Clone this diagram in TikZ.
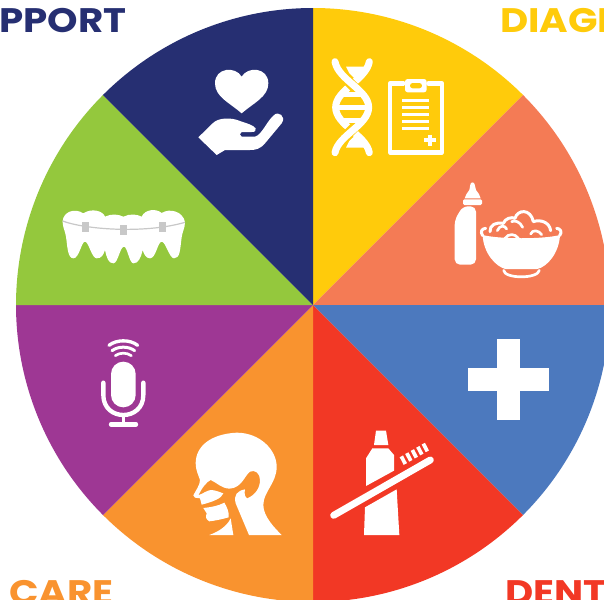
\documentclass[tikz,border=0pt]{standalone}
\usepackage{fontspec}
\usepackage{graphicx}
\setmainfont{Poppins}
\definecolor{cyellow}{HTML}{FFCB0B}
\definecolor{csalmon}{HTML}{F47B55}
\definecolor{cblue}{HTML}{4C79BE}
\definecolor{cred}{HTML}{F23825}
\definecolor{corange}{HTML}{F9932F}
\definecolor{cpurple}{HTML}{9E3794}
\definecolor{cgreen}{HTML}{94C83D}
\definecolor{cnavy}{HTML}{262F72}
\definecolor{cwire}{HTML}{C8C8C8}
\tikzset{
  lnw/.style={draw=white,line width=#1*0.25pt,line cap=round,line join=round},
  zm/.style={x=0.25pt,y=-0.25pt},
  heading/.style={font=\bfseries\fontsize{25.5pt}{25.5pt}\selectfont,inner sep=0pt,anchor=base west}
}
\newcommand{\wide}[1]{\scalebox{1.14}[1]{#1}}
\begin{document}
\begin{tikzpicture}[x=0.75pt,y=-0.75pt]
\useasboundingbox (0,0) rectangle (604,600);
\clip (0,0) rectangle (604,600);
\def\R{297}
\foreach \col/\a/\b in {cyellow/45/90,csalmon/0/45,cblue/-45/0,cred/-90/-45,corange/-135/-90,cpurple/-180/-135,cgreen/135/180,cnavy/90/135}{
  \fill[\col] (313,305) -- ++({\R*cos(\a)},{-\R*sin(\a)}) arc[start angle=-\a,end angle=-\b,radius=\R] -- cycle;
}
% headings
\node[heading,text=cnavy] (tsupport) at (-1,32) {\wide{PPORT}};
\node[heading,text=cyellow] (tdiag) at (500,32) {\wide{DIAGI}};
\node[heading,text=corange] (tcare) at (9,604) {\wide{CARE}};
\node[heading,text=cred] (tdent) at (505,604) {\wide{DENT}};
% DNA and clipboard
\begin{scope}[shift={(310,30)},zm]
  \draw[lnw=21] (178,95) .. controls (168,150) and (77,180) .. (77,232) .. controls (77,285) and (168,315) .. (178,368);
  \draw[cyellow,line width=7.5pt] (92,125) .. controls (115,160) and (150,185) .. (165,205);
  \draw[cyellow,line width=7.5pt] (165,258) .. controls (150,280) and (115,305) .. (92,338);
  \draw[lnw=21] (75,95) .. controls (85,150) and (176,180) .. (176,232) .. controls (176,285) and (85,315) .. (75,368);
  \fill[white] (108,110)--(165,110)--(160,125)--(140,152)--(118,130)--cycle;
  \fill[white] (108,353)--(165,353)--(160,338)--(140,312)--(118,333)--cycle;
  \draw[white,line width=4.2pt] (95,193)--(158,193) (85,233)--(168,233) (95,272)--(158,272);
  \draw[lnw=13] (280,160) -- (240,160) -- (240,367) -- (396,367) -- (396,160) -- (355,160);
  \fill[white,rounded corners=2pt] (285,147) rectangle (350,187);
  \fill[cyellow,rounded corners=2pt] (300,159) rectangle (336,175);
  \draw[white,line width=1.9pt] (277,211)--(358,211) (277,232)--(358,232) (277,253)--(358,253) (277,274)--(358,274) (277,295)--(358,295);
  \draw[white,line width=3pt] (342,331)--(378,331) (360,314)--(360,348);
\end{scope}
% bottle and bowl
\begin{scope}[shift={(440,170)},zm]
  \fill[white] (88,60) .. controls (90,52) and (91,50) .. (91,44) .. controls (91,35) and (104,35) .. (104,44) .. controls (104,52) and (106,54) .. (108,60) .. controls (115,68) and (120,76) .. (122,85) -- (74,85) .. controls (76,76) and (82,68) .. (88,60) -- cycle;
  \fill[white,rounded corners=1pt] (69,88) rectangle (126,105);
  \fill[white,rounded corners=4pt] (68,109) -- (108,109) -- (108,284) -- (44,284) -- (44,150) -- cycle;
  % food
  \draw[lnw=9] (150,185) .. controls (148,165) and (170,155) .. (190,160) .. controls (195,145) and (215,140) .. (225,145) .. controls (232,118) and (272,115) .. (280,155) .. controls (300,148) and (328,155) .. (332,182);
  \draw[lnw=8] (172,182) .. controls (178,165) and (195,165) .. (200,177);
  \draw[lnw=8] (215,155) .. controls (225,150) and (240,155) .. (248,172);
  \draw[lnw=8] (272,192) .. controls (278,178) and (295,180) .. (305,194);
  \draw[lnw=8] (195,205) .. controls (205,190) and (225,190) .. (235,205);
  % rim
  \draw[lnw=9] (137,175) .. controls (125,176) and (120,185) .. (128,197);
  \draw[lnw=9] (350,175) .. controls (362,176) and (367,185) .. (359,197);
  \fill[white] (128,195) .. controls (180,208) and (310,208) .. (360,195) .. controls (357,250) and (322,290) .. (292,297) -- (196,297) .. controls (168,290) and (130,250) .. (128,195) -- cycle;
  \draw[lnw=8] (191,301) .. controls (193,327) and (294,327) .. (298,301);
\end{scope}
% plus
\fill[white] (497,339) rectangle (520,420);
\fill[white] (468,368) rectangle (549,391);
% toothbrush
\begin{scope}[shift={(320,420)},zm]
  \fill[white] (168,32) -- (198,32) -- (205,75) -- (162,75) -- cycle;
  \fill[white] (157,85) -- (205,85) -- (222,105) -- (222,152) -- (138,198) -- (138,115) -- cycle;
  \fill[white] (135,262) -- (230,208) -- (238,345) -- (132,345) -- cycle;
  \draw[white,line width=5.2pt,line cap=round] (41,286) -- (331,120);
  \foreach \k in {0,...,4}{
    \draw[white,line width=2.8pt] ({244+16.5*\k},{109-9.5*\k}) -- ({256+16.5*\k},{132-9.5*\k});
  }
\end{scope}
% head
\begin{scope}[shift={(180,420)},zm]
  \fill[white] (47,130) .. controls (47,80) and (90,42) .. (170,38) .. controls (240,38) and (290,90) .. (290,140) .. controls (290,190) and (250,215) .. (250,255) .. controls (250,290) and (285,325) .. (305,345) -- (207,345) -- (167,250) .. controls (160,225) and (172,212) .. (195,208) .. controls (192,222) and (195,232) .. (202,235) .. controls (225,225) and (240,205) .. (240,180) .. controls (240,160) and (225,148) .. (210,155) .. controls (195,165) and (185,205) .. (148,206) .. controls (125,205) and (110,188) .. (92,180) .. controls (80,185) and (65,205) .. (55,226) .. controls (70,220) and (80,212) .. (92,210) .. controls (105,210) and (118,216) .. (130,220) .. controls (125,235) and (100,245) .. (65,254) -- (60,235) -- (45,233) -- (40,226) .. controls (48,210) and (60,195) .. (60,180) .. controls (55,165) and (47,150) .. (47,130) -- cycle;
  \fill[white] (70,264) .. controls (90,262) and (115,258) .. (133,248) .. controls (140,260) and (148,275) .. (146,292) .. controls (125,298) and (105,302) .. (88,304) .. controls (78,298) and (76,292) .. (80,280) -- cycle;
  \fill[white] (88,345) .. controls (115,335) and (140,320) .. (152,295) -- (160,345) -- cycle;
\end{scope}
% mic
\begin{scope}[shift={(90,330)},zm]
  \fill[white] (63,132) arc[start angle=180,end angle=360,radius=37] -- (137,195) arc[start angle=0,end angle=180,radius=37] -- cycle;
  \draw[lnw=13] (40,158) -- (40,195) .. controls (40,235) and (70,255) .. (100,255) .. controls (130,255) and (160,235) .. (160,195) -- (160,158);
  \draw[lnw=11] (100,255) -- (100,283);
  \draw[lnw=13] (63,283) -- (138,283);
  \draw[lnw=10] (57,46) .. controls (80,28) and (120,28) .. (143,46);
  \draw[lnw=9] (66,62) .. controls (85,48) and (115,48) .. (134,62);
  \draw[lnw=8] (76,77) .. controls (90,67) and (110,67) .. (124,77);
\end{scope}
% teeth
\begin{scope}[shift={(50,195)},zm]
  \fill[white] (38,78) .. controls (40,50) and (75,38) .. (100,55) .. controls (125,38) and (160,48) .. (165,65) .. controls (185,55) and (205,58) .. (220,65) .. controls (240,55) and (262,58) .. (275,65) .. controls (285,42) and (320,40) .. (335,54) .. controls (360,38) and (400,50) .. (405,82) .. controls (405,100) and (396,110) .. (394,135) .. controls (390,165) and (390,190) .. (372,190) .. controls (358,190) and (347,140) .. (335,140) .. controls (323,140) and (318,190) .. (300,190) .. controls (288,190) and (282,178) .. (278,165) .. controls (272,190) and (265,205) .. (250,205) .. controls (238,205) and (232,155) .. (222,155) .. controls (210,155) and (204,205) .. (190,205) .. controls (175,205) and (170,188) .. (165,165) .. controls (160,180) and (155,190) .. (140,190) .. controls (125,190) and (116,140) .. (105,140) .. controls (94,140) and (88,190) .. (70,190) .. controls (52,190) and (52,150) .. (48,125) .. controls (45,105) and (38,100) .. (38,78) -- cycle;
  \draw[cwire,line width=0.9pt] (38,78) .. controls (100,102) and (280,118) .. (405,82);
  \fill[cwire] (97,82) rectangle (117,110);
  \fill[cwire] (211,90) rectangle (231,120);
  \fill[cwire] (327,81) rectangle (347,110);
\end{scope}
% heart and hand
\begin{scope}[shift={(190,60)},zm]
  \fill[white] (155,160) .. controls (118,128) and (75,110) .. (75,70) .. controls (75,22) and (137,18) .. (155,50) .. controls (173,18) and (235,22) .. (235,70) .. controls (235,110) and (192,128) .. (155,160) -- cycle;
  \fill[white] (25,232) -- (68,190) .. controls (85,172) and (125,172) .. (150,183) .. controls (170,190) and (190,195) .. (197,205) .. controls (199,212) and (195,216) .. (185,216) -- (155,216) .. controls (148,218) and (148,228) .. (155,230) -- (195,230) .. controls (215,225) and (230,185) .. (250,167) .. controls (265,150) and (290,170) .. (275,190) -- (225,250) .. controls (210,268) and (195,270) .. (180,270) -- (105,270) -- (80,285) -- cycle;
\end{scope}
\end{tikzpicture}
\end{document}
